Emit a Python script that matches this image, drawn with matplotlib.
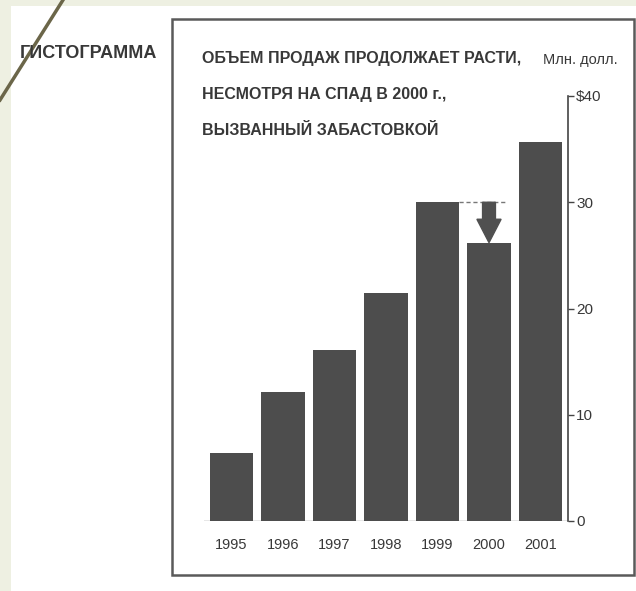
import matplotlib
matplotlib.use("Agg")
import matplotlib.pyplot as plt
from matplotlib.patches import Rectangle
from matplotlib.lines import Line2D

# Данные (млн. долл.)
years = ["1995", "1996", "1997", "1998", "1999", "2000", "2001"]
sales = [6.4, 12.1, 16.1, 21.5, 30.0, 26.2, 35.7]
yticks = [0, 10, 20, 30, 40]
ytick_labels = ["0", "10", "20", "30", "$40"]
title_lines = ["ОБЪЕМ ПРОДАЖ ПРОДОЛЖАЕТ РАСТИ,",
               "НЕСМОТРЯ НА СПАД В 2000 г.,",
               "ВЫЗВАННЫЙ ЗАБАСТОВКОЙ"]
slide_title = "ГИСТОГРАММА"
unit_label = "Млн. долл."

W, H = 636, 591
font = ["Liberation Sans", "DejaVu Sans"]
ink = "#383838"
bar_color = "#4d4d4d"


def fx(px):
    return px / W


def fy(py):
    return 1 - py / H


fig = plt.figure(figsize=(W / 100, H / 100), dpi=100, facecolor="#eef0e2")

# белая "страница" и диагональная линия слайда
fig.patches.append(Rectangle((fx(11), 0), 1 - fx(11), fy(6), transform=fig.transFigure,
                             facecolor="white", edgecolor="none", zorder=-10))
fig.lines.append(Line2D([fx(63), fx(0)], [fy(0), fy(100)], transform=fig.transFigure,
                        color="#6b6649", lw=2.5, zorder=-5))

# рамка вокруг графика
fig.patches.append(Rectangle((fx(172), fy(575)), fx(634) - fx(172), fy(19) - fy(575),
                             transform=fig.transFigure, facecolor="none",
                             edgecolor="#5a5a5a", lw=1.8, zorder=-5))

fig.text(fx(20), fy(54), slide_title, family=font, weight="bold", fontsize=13,
         color=ink, ha="left", va="center")

for i, line in enumerate(title_lines):
    fig.text(fx(202), fy(58 + 36 * i), line, family=font, weight="bold", fontsize=11.5,
             color=ink, ha="left", va="center")

fig.text(fx(580), fy(60), unit_label, family=font, fontsize=10.5, color=ink,
         ha="center", va="center")

# оси: низ = 0, верх = 40
ax = fig.add_axes([fx(204), fy(521), fx(568) - fx(204), fy(96) - fy(521)])
ax.set_facecolor("none")
x = list(range(len(years)))
ax.bar(x, sales, width=0.835, color=bar_color, zorder=2)
ax.set_xlim(-0.534, 6.534)
ax.set_ylim(0, 40)

for s in ["left", "top", "bottom"]:
    ax.spines[s].set_visible(False)
ax.spines["right"].set_color("#444444")
ax.spines["right"].set_linewidth(1.2)
ax.axhline(0, color="#888888", lw=1, zorder=1)

ax.yaxis.tick_right()
ax.set_yticks(yticks)
ax.set_yticklabels(ytick_labels, family=font, fontsize=11, color=ink)
ax.tick_params(axis="y", direction="out", length=4, width=1, color="#444444", pad=2)
ax.set_xticks(x)
ax.set_xticklabels(years, family=font, fontsize=10.5, color=ink)
ax.tick_params(axis="x", length=0, pad=12)

# пунктир на уровне 1999 и стрелка спада 2000 г.
ax.plot([4 + 0.835 / 2, 5 + 0.34], [sales[4], sales[4]], color="#777777", lw=1,
        ls=(0, (3, 2)), zorder=3)
ax.arrow(5, sales[4], 0, sales[5] - sales[4], width=0.25, head_width=0.47,
         head_length=2.2, length_includes_head=True, color="#505050", zorder=4)

fig.savefig("out.png", dpi=100, facecolor=fig.get_facecolor())
